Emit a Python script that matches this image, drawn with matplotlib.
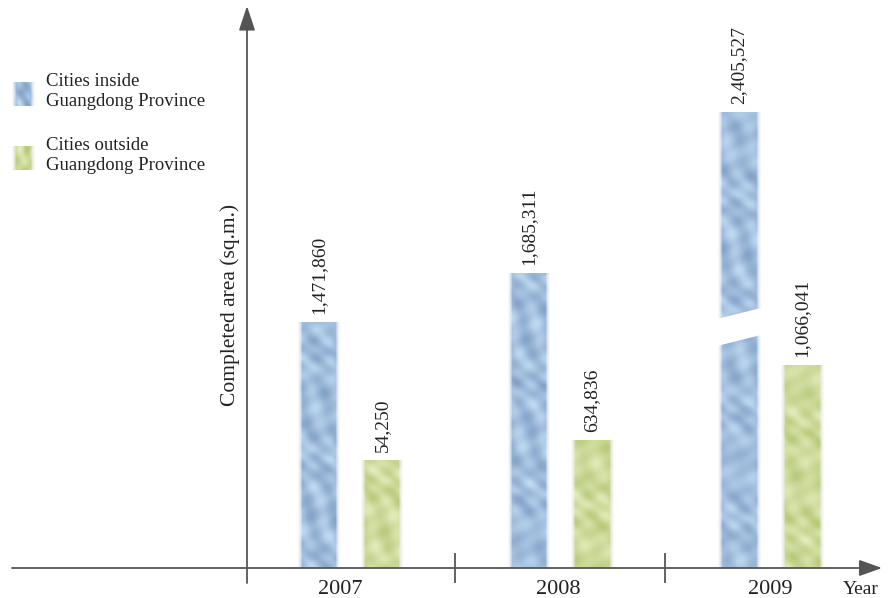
import numpy as np
import matplotlib.pyplot as plt
from matplotlib.colors import to_rgb

years = ['2007', '2008', '2009']
inside_values = [1471860, 1685311, 2405527]
outside_values = [54250, 634836, 1066041]
# the source bars are not drawn to scale: drawn heights (px above axis)
inside_heights = [246, 295, 456]
outside_heights = [108, 128, 203]
series_names = ['Cities inside\nGuangdong Province', 'Cities outside\nGuangdong Province']
y_label = 'Completed area (sq.m.)'

plt.rcParams['font.family'] = ['Liberation Serif', 'DejaVu Serif']

W, H = 888, 598
X0, STEP, BASE = 350, 210, 30   # group 0 centre in px, px per group, axis line px from bottom
GREY = '#555555'
BLUE = ('#c0daf2', '#7898c0')
GREEN = ('#e4ecbc', '#afc36e')
year_nudge = [-10, -2, 0]       # year labels sit a little off the group centres in the source


def px(x, y):
    # pixel position (from top-left) -> data coords
    return (x - X0) / STEP, (H - BASE) - y


def texture(colors, w, h, phase=0.0):
    yy, xx = np.mgrid[0:h, 0:w].astype(float)
    u = xx / max(w - 1, 1)
    n = (np.sin(yy / 9.0 + 6 * u + phase) * np.sin(yy / 23.0 - 4 * u + 2 * phase)
         + 0.6 * np.sin(yy / 5.0 + 11 * u + 3 * np.sin(yy / 17.0 + phase))
         + 0.4 * np.sin(yy / 3.1 - 7 * u))
    n = (n - n.min()) / (n.max() - n.min())
    light, dark = np.array(to_rgb(colors[0])), np.array(to_rgb(colors[1]))
    rgb = light + (dark - light) * n[..., None] * 0.85
    edge = np.clip(np.minimum(xx, w - 1 - xx) / 4.0, 0, 1)
    rgb = rgb * edge[..., None] + (1 - edge[..., None]) * np.array([0.93, 0.93, 0.96])
    alpha = 0.35 + 0.65 * edge
    return np.dstack([rgb, alpha])


fig = plt.figure(figsize=(W / 100, H / 100), dpi=100)
ax = fig.add_axes([0, 0, 1, 1])
ax.set_autoscale_on(False)
ax.set_xlim(-X0 / STEP, (W - X0) / STEP)
ax.set_ylim(-BASE, H - BASE)
ax.axis('off')

bar_w = 42 / STEP
offsets = [-31 / STEP, 32 / STEP]
series = [(inside_values, inside_heights, BLUE), (outside_values, outside_heights, GREEN)]

for s, (vals, heights, cols) in enumerate(series):
    for i, (v, h) in enumerate(zip(vals, heights)):
        xc = i + offsets[s]
        img = texture(cols, 42, int(h), phase=i * 1.7 + s)
        ax.imshow(img, extent=(xc - bar_w / 2, xc + bar_w / 2, 0, h), origin='lower',
                  aspect='auto', interpolation='bilinear', zorder=2)
        ax.text(xc, h + 8, f'{v:,}', rotation=90, ha='center', va='bottom',
                fontsize=14, color='#222222')

# break mark on the tallest bar
xc = 2 + offsets[0]
xl, xr = xc - bar_w / 2 - 0.03, xc + bar_w / 2 + 0.03
brk, gap, slope = 241, 27, 0.25 * STEP
yl = brk - (xc - xl) * slope
yr = brk + (xr - xc) * slope
ax.fill([xl, xr, xr, xl], [yl - gap / 2, yr - gap / 2, yr + gap / 2, yl + gap / 2],
        color='white', zorder=3, lw=0)

# axes with arrow heads
ax.annotate('', xy=px(882, 568), xytext=px(12, 568),
            arrowprops=dict(arrowstyle='-|>,head_length=0.7,head_width=0.25',
                            mutation_scale=20, color=GREY, lw=1.3,
                            shrinkA=0, shrinkB=0))
ax.annotate('', xy=px(247, 6), xytext=px(247, 583),
            arrowprops=dict(arrowstyle='-|>,head_length=0.75,head_width=0.25',
                            mutation_scale=20, color=GREY, lw=1.3,
                            shrinkA=0, shrinkB=0))
ax.vlines([0.5, 1.5], -15, 15, color=GREY, lw=1.3)

for i, yr_lbl in enumerate(years):
    ax.text(i + year_nudge[i] / STEP, -21, yr_lbl, ha='center', va='center',
            fontsize=16, color='#222222')
ax.text(*px(861, 589), 'Year', ha='center', va='center', fontsize=14, color='#222222')
ax.text(*px(230, 305), y_label, rotation=90, ha='center', va='center',
        fontsize=15.5, color='#222222')

# legend
for k, (name, cols) in enumerate(zip(series_names, [BLUE, GREEN])):
    top = 82 + 64 * k
    x1, y1 = px(12, top + 24)
    x2, y2 = px(35, top)
    ax.imshow(texture(cols, 24, 24, phase=k), extent=(x1, x2, y1, y2), origin='lower',
              aspect='auto', interpolation='bilinear', zorder=2)
    ax.text(*px(46, top - 9), name, ha='left', va='top', fontsize=13.5,
            linespacing=1.2, color='#222222')

fig.savefig('out.png', dpi=100)
